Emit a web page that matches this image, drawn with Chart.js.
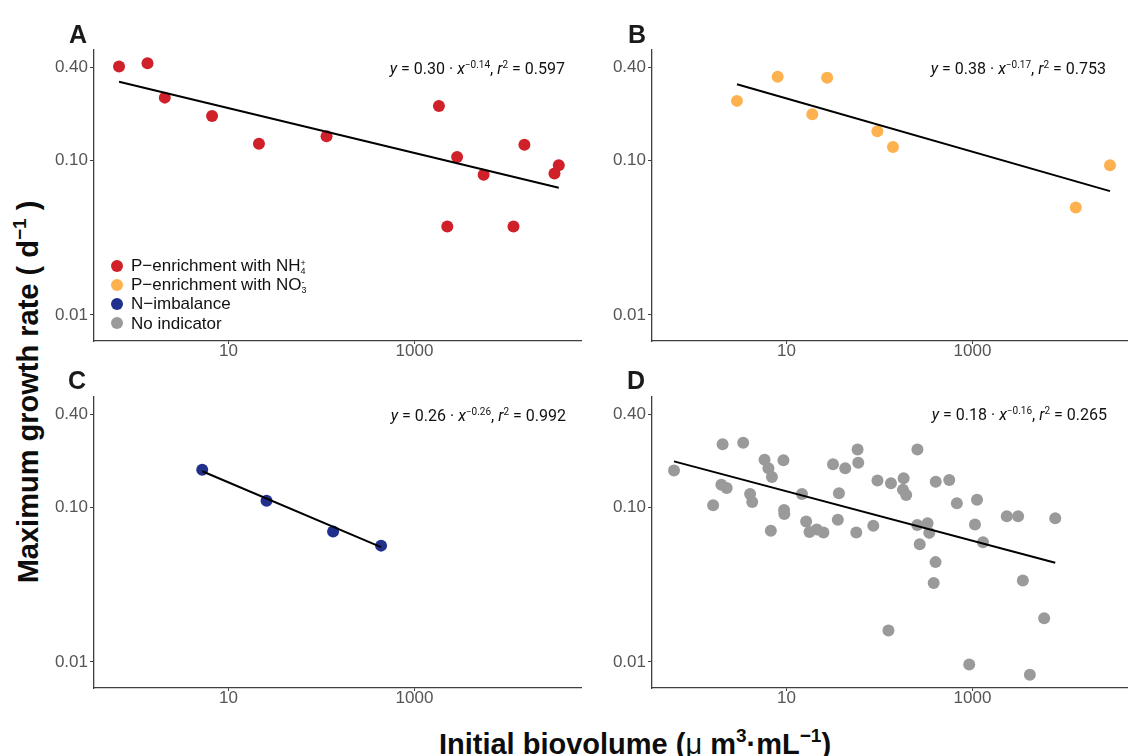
<!DOCTYPE html>
<html>
<head>
<meta charset="utf-8">
<script src="https://cdn.jsdelivr.net/npm/chart.js@4.4.1/dist/chart.umd.min.js"></script>
<style>
html, body { margin:0; padding:0; background:#fff; }
body { width:1128px; height:756px; overflow:hidden; position:relative; font-family:"Liberation Sans", Arial, sans-serif; color:#111; }
canvas { position:absolute; }
.tag { position:absolute; font-weight:bold; font-size:25px; line-height:25px; color:#1a1a1a; }
.eq { position:absolute; font-family:Roboto, "Noto Sans", sans-serif; font-size:16px; line-height:20px; white-space:nowrap; text-align:right; color:#111; }
.eq sup { font-size:10px; line-height:0; vertical-align:6px; }
.legend { position:absolute; left:110px; top:256px; font-size:17px; color:#111; }
.legend div { height:19.2px; line-height:19.2px; white-space:nowrap; position:relative; padding-left:21px; }
.legend span.dot { position:absolute; left:1px; top:3.6px; width:12px; height:12px; border-radius:50%; }
.ss { display:inline-block; vertical-align:middle; line-height:8px; font-size:9px; text-align:left; }
.title { position:absolute; font-weight:bold; font-size:29px; line-height:34px; text-align:center; white-space:nowrap; color:#0d0d0d; }
.title sup { font-size:19px; line-height:0; vertical-align:12px; }
.mu { font-weight:normal; }
</style>
</head>
<body>
<canvas id="panelA" width="543" height="337" style="left:48px;top:34px"></canvas>
<canvas id="panelB" width="543" height="337" style="left:606px;top:34px"></canvas>
<canvas id="panelC" width="543" height="337" style="left:48px;top:381px"></canvas>
<canvas id="panelD" width="543" height="337" style="left:606px;top:381px"></canvas>

<div class="tag" style="left:69px;top:22px">A</div>
<div class="tag" style="left:628px;top:22px">B</div>
<div class="tag" style="left:68px;top:368px">C</div>
<div class="tag" style="left:627px;top:368px">D</div>

<div class="eq" style="right:563px;top:59px"><i>y</i> = 0.30 · <i>x</i><sup>−0.14</sup>, <i>r</i><sup>2</sup> = 0.597</div>
<div class="eq" style="right:22px;top:59px"><i>y</i> = 0.38 · <i>x</i><sup>−0.17</sup>, <i>r</i><sup>2</sup> = 0.753</div>
<div class="eq" style="right:562px;top:406px"><i>y</i> = 0.26 · <i>x</i><sup>−0.26</sup>, <i>r</i><sup>2</sup> = 0.992</div>
<div class="eq" style="right:21px;top:405px"><i>y</i> = 0.18 · <i>x</i><sup>−0.16</sup>, <i>r</i><sup>2</sup> = 0.265</div>

<div class="legend" id="legend"></div>

<div class="title" style="left:-222px;top:375px;width:500px;transform:rotate(-90deg)">Maximum growth rate ( d<sup>−1</sup> )</div>
<div class="title" style="left:335px;top:727px;width:600px">Initial biovolume (<span class="mu">μ</span> m<sup>3</sup>·mL<sup>−1</sup>)</div>

<script>
// axis ranges and ticks (shared by all four panels)
const xMin = 0.359, xMax = 61700;
const yMin = 0.00679, yMax = 0.516;
const xTicks = [10, 1000];
const yTicks = [0.01, 0.1, 0.4];

// groups
const groupNames = ['P−enrichment with NH<span class="ss">+<br>4</span>', 'P−enrichment with NO<span class="ss">-<br>3</span>', 'N−imbalance', 'No indicator'];
const groupColors = ['#d0202a', '#fdb24f', '#22308d', '#9a9a9a'];

// A: P-enrichment with NH4+
const xA = [0.667, 1.35, 2.07, 6.67, 21.3, 113.5, 1832, 2254, 2873, 5540, 11600, 15200, 32000, 35600];
const yA = [0.404, 0.424, 0.254, 0.193, 0.128, 0.143, 0.224, 0.0373, 0.105, 0.0807, 0.0373, 0.126, 0.082, 0.0929];
const fitAx = [0.667, 35600];
const fitAy = [0.322, 0.0665];

// B: P-enrichment with NO3-
const xB = [2.94, 8.05, 18.97, 27.4, 95, 139.8, 12900, 30100];
const yB = [0.242, 0.347, 0.198, 0.341, 0.154, 0.122, 0.0495, 0.0929];
const fitBx = [2.94, 30100];
const fitBy = [0.310, 0.0632];

// C: N-imbalance
const xC = [5.23, 25.7, 133.5, 437.8];
const yC = [0.175, 0.110, 0.0697, 0.0565];
const fitCx = [5.23, 437.8];
const fitCy = [0.171, 0.0553];

// D: no indicator
const xD = [0.619, 1.63, 2.06, 2.00, 2.28, 3.43, 4.07, 4.29, 5.82, 6.41, 6.99, 6.80, 9.29, 9.44, 9.49,
  14.7, 16.3, 17.7, 21.2, 25.0, 31.7, 42.9, 36.7, 35.7, 58.2, 59.2, 56.4, 85.9, 95.3, 133, 125, 182, 179, 194,
  256, 255, 271, 329, 343, 403, 401, 383, 563, 680, 923, 1119, 1064, 1298, 2339, 3097, 3480, 4140, 5900, 7760];
const yD = [0.173, 0.103, 0.255, 0.140, 0.133, 0.261, 0.122, 0.108, 0.203, 0.179, 0.157, 0.0704, 0.201, 0.0960, 0.0905,
  0.122, 0.0808, 0.0693, 0.0719, 0.0687, 0.190, 0.179, 0.123, 0.0829, 0.236, 0.194, 0.0687, 0.0759, 0.149, 0.143, 0.0160, 0.154, 0.130, 0.120,
  0.236, 0.0767, 0.0576, 0.0787, 0.0683, 0.146, 0.0442, 0.0324, 0.150, 0.106, 0.00962, 0.112, 0.0775, 0.0594, 0.0874, 0.0874, 0.0336, 0.00828, 0.0192, 0.0848];
const fitDx = [0.619, 7760];
const fitDy = [0.198, 0.0438];

// legend (inside panel A)
document.getElementById('legend').innerHTML = groupNames.map((name, i) =>
  '<div><span class="dot" style="background:' + groupColors[i] + '"></span>' + name + '</div>').join('');

const tickFont = { family: 'Liberation Sans', size: 17 };
const axisColor = '#3f3f3f';

function toPoints(xs, ys) {
  return xs.map((x, i) => ({ x: x, y: ys[i] }));
}

function makePanel(id, xs, ys, fx, fy, color) {
  const ctx = document.getElementById(id).getContext('2d');
  return new Chart(ctx, {
    data: {
      datasets: [
        {
          type: 'line',
          data: toPoints(fx, fy),
          borderColor: '#000',
          borderWidth: 2,
          pointRadius: 0,
          fill: false,
          clip: false
        },
        {
          type: 'scatter',
          data: toPoints(xs, ys),
          backgroundColor: color,
          borderWidth: 0,
          pointRadius: 6,
          pointHoverRadius: 6,
          clip: false
        }
      ]
    },
    options: {
      responsive: false,
      animation: false,
      devicePixelRatio: 1,
      layout: { padding: { top: 16, right: 10, bottom: 0, left: 0 } },
      plugins: { legend: { display: false }, tooltip: { enabled: false } },
      scales: {
        x: {
          type: 'logarithmic',
          min: xMin,
          max: xMax,
          afterBuildTicks: s => { s.ticks = xTicks.map(v => ({ value: v })); },
          afterFit: s => { s.height = 30; },
          ticks: {
            color: '#555',
            font: tickFont,
            padding: -3,
            maxRotation: 0,
            autoSkip: false,
            callback: v => String(v)
          },
          grid: { drawOnChartArea: false, drawTicks: true, tickLength: 3, color: axisColor },
          border: { color: axisColor, width: 1.3 }
        },
        y: {
          type: 'logarithmic',
          min: yMin,
          max: yMax,
          afterBuildTicks: s => { s.ticks = yTicks.map(v => ({ value: v })); },
          afterFit: s => { s.width = 46; },
          ticks: {
            color: '#555',
            font: tickFont,
            padding: 2,
            autoSkip: false,
            callback: v => Number(v).toFixed(2)
          },
          grid: { drawOnChartArea: false, drawTicks: true, tickLength: 4, color: axisColor },
          border: { color: axisColor, width: 1.3 }
        }
      }
    }
  });
}

const chartA = makePanel('panelA', xA, yA, fitAx, fitAy, groupColors[0]);
const chartB = makePanel('panelB', xB, yB, fitBx, fitBy, groupColors[1]);
const chartC = makePanel('panelC', xC, yC, fitCx, fitCy, groupColors[2]);
const chartD = makePanel('panelD', xD, yD, fitDx, fitDy, groupColors[3]);
</script>
</body>
</html>
